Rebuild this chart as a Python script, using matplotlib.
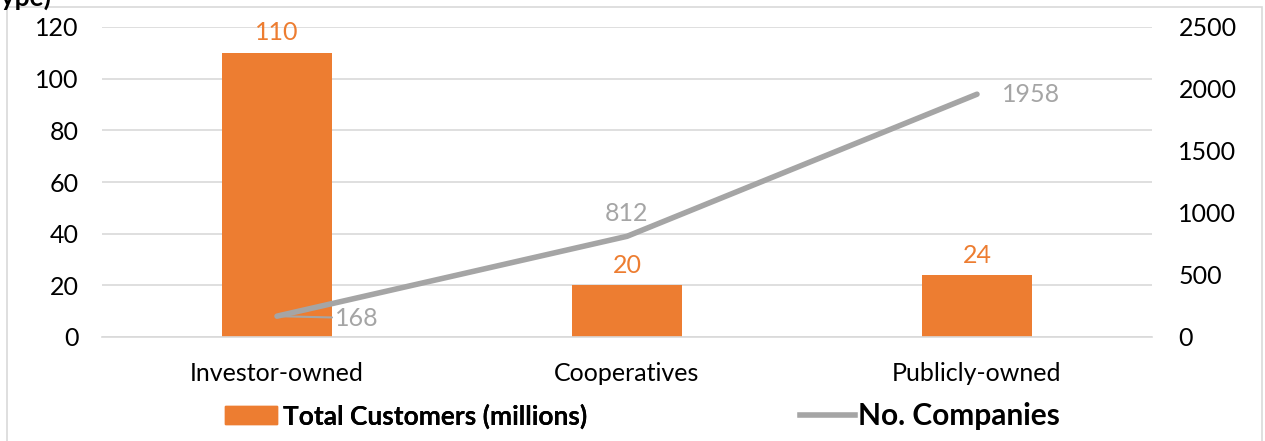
import matplotlib
matplotlib.use("Agg")
import matplotlib.pyplot as plt
from matplotlib.patches import Rectangle
from matplotlib.lines import Line2D
from matplotlib.patches import Patch

plt.rcParams['font.family'] = ['Lato', 'DejaVu Sans']

categories = ["Investor-owned", "Cooperatives", "Publicly-owned"]
customers = [110, 20, 24]
companies = [168, 812, 1958]
left_ticks = [0, 20, 40, 60, 80, 100, 120]
right_ticks = [0, 500, 1000, 1500, 2000, 2500]

ORANGE = "#ED7D31"
GRAY = "#A5A5A5"
W, H = 1265, 441
fig = plt.figure(figsize=(W/100, H/100), dpi=100)
ax = fig.add_axes([102/W, 1-337/H, (1152-102)/W, (337-27)/H])
x = list(range(len(categories)))
ax.bar(x, customers, width=0.314, color=ORANGE, zorder=2)
ax.set_xlim(-0.5, 2.5)
ax.set_ylim(0, 120)
ax.set_yticks(left_ticks)
ax.grid(axis='y', color='#D9D9D9', linewidth=1.2, zorder=0)
for s in ['top', 'left', 'right']:
    ax.spines[s].set_visible(False)
ax.spines['bottom'].set_color('#D9D9D9')
ax.spines['bottom'].set_linewidth(1.2)
ax.tick_params(axis='both', length=0, labelsize=18, colors='#000000')
ax.tick_params(axis='y', pad=17)
ax.tick_params(axis='x', pad=18)
ax.set_xticks(x)
ax.set_xticklabels(categories)
for xi, v in zip(x, customers):
    ax.annotate(str(v), (xi, v), xytext=(0, 6), textcoords='offset points',
                ha='center', va='bottom', color=ORANGE, fontsize=18)

ax2 = ax.twinx()
ax2.set_ylim(0, 2500)
ax2.set_yticks(right_ticks)
for s in ax2.spines.values():
    s.set_visible(False)
ax2.tick_params(axis='y', length=0, labelsize=18, pad=19)
ax2.plot(x, companies, color=GRAY, linewidth=4, solid_capstyle='round', zorder=3)
# labels
ax2.annotate(str(companies[0]), (x[0], companies[0]), xytext=(x[0] + 0.165, companies[0] - 15),
             textcoords='data', ha='left', va='center', color=GRAY, fontsize=18,
             arrowprops=dict(arrowstyle='-', color=GRAY, lw=1.5, shrinkA=0, shrinkB=3))
ax2.annotate(str(companies[1]), (x[1], companies[1]), xytext=(0, 8), textcoords='offset points',
             ha='center', va='bottom', color=GRAY, fontsize=18)
ax2.annotate(str(companies[2]), (x[2], companies[2]), xytext=(18, 0), textcoords='offset points',
             ha='left', va='center', color=GRAY, fontsize=18)

# legend
h1 = Patch(color=ORANGE)
leg1 = fig.legend([h1], ["Total Customers (millions)"], loc='center left',
                  bbox_to_anchor=(225/W, 1-416/H), frameon=False, handlelength=1.97,
                  handleheight=0.65, handletextpad=0.23, borderpad=0, borderaxespad=0,
                  prop={'weight': 'bold', 'size': 19})
h2 = Line2D([0], [0], color=GRAY, linewidth=4)
leg2 = fig.legend([h2], ["No. Companies"], loc='center left',
                  bbox_to_anchor=(800/W, 1-416/H), frameon=False, handlelength=1.84,
                  handletextpad=0.1, borderpad=0, borderaxespad=0,
                  prop={'weight': 'bold', 'size': 21.5})
fig.add_artist(leg1)

# border
fig.patches.append(Rectangle((7/W, -0.05), (1262-7)/W, 1 - 7/H + 0.05, transform=fig.transFigure,
                             fill=False, edgecolor='#D9D9D9', linewidth=1.2))
fig.text(-14/W, 1 + 3/H, "Type)", fontsize=19, fontweight='bold', ha='left', va='center')

fig.savefig("out.png", dpi=100)
